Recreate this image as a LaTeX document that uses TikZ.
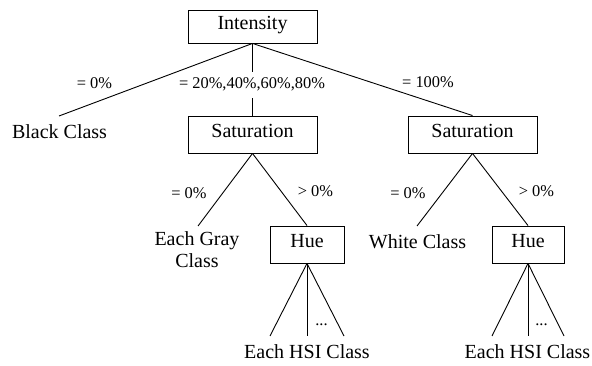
\documentclass[tikz,border=0pt]{standalone}
\usepackage{fontspec}
\setmainfont{Liberation Serif}
\begin{document}
\begin{tikzpicture}[x=1pt,y=-1pt,
  line width=0.9pt,
  boxnode/.style={draw, line width=0.9pt, inner sep=0pt, font=\fontsize{20}{22}\selectfont, text height=0.66em, text depth=0pt},
  leaf/.style={inner sep=0pt, font=\fontsize{20}{22}\selectfont, text height=0.66em, text depth=0pt},
  lbl/.style={inner sep=0pt, font=\fontsize{16.4}{18}\selectfont, text height=0.66em, text depth=0pt}]
\useasboundingbox (0,0) rectangle (592,366);
% boxes
\node[boxnode, minimum width=129pt, minimum height=33pt] (int) at (252.5,26.5) {Intensity};
\node[boxnode, minimum width=129pt, minimum height=37pt] (sat1) at (252.5,134.5) {Saturation};
\node[boxnode, minimum width=129pt, minimum height=37pt] (sat2) at (472.5,134.5) {Saturation};
\node[boxnode, minimum width=74pt, minimum height=37pt] (hue1) at (307,244.5) {Hue};
\node[boxnode, minimum width=72pt, minimum height=37pt] (hue2) at (528,244.5) {Hue};
% leaves
\node[leaf] (black) at (59.5,135) {Black Class};
\node[leaf, align=center, anchor=north, text height=, ] (gray) at (197,231) {Each Gray\\Class};
\node[leaf] (white) at (417.5,245) {White Class};
\node[leaf] (hsi1) at (307,355) {Each HSI Class};
\node[leaf] (hsi2) at (527.5,355) {Each HSI Class};
% connector end points
\coordinate (eb) at (59,116);
\coordinate (eg) at (198,226);
\coordinate (ew) at (417,226);
\coordinate (h1a) at (270,336);
\coordinate (h1b) at (307,336);
\coordinate (h1c) at (344,336);
\coordinate (h2a) at (492,336);
\coordinate (h2b) at (528,336);
\coordinate (h2c) at (564,336);
% connectors
\draw (int.south) -- (eb);
\draw (int.south) -- (sat1.north);
\draw (int.south) -- (sat2.north);
\draw (sat1.south) -- (eg);
\draw (sat1.south) -- (hue1.north);
\draw (sat2.south) -- (ew);
\draw (sat2.south) -- (hue2.north);
\draw (hue1.south) -- (h1a);
\draw (hue1.south) -- (h1b);
\draw (hue1.south) -- (h1c);
\draw (hue2.south) -- (h2a);
\draw (hue2.south) -- (h2b);
\draw (hue2.south) -- (h2c);
% labels
\node[lbl] (l1) at (94.5,85) {= 0\%};
\node[lbl, fill=white, minimum height=26pt, inner xsep=1pt] (l2) at (252,85) {= 20\%,40\%,60\%,80\%};
\node[lbl] (l3) at (428,84) {= 100\%};
\node[lbl] (l4) at (189,195) {= 0\%};
\node[lbl] (l5) at (315.5,193) {> 0\%};
\node[lbl] (l6) at (408,195) {= 0\%};
\node[lbl] (l7) at (536.5,193) {> 0\%};
\node[lbl] (d1) at (321.5,322) {...};
\node[lbl] (d2) at (541.5,322) {...};
\end{tikzpicture}
\end{document}
